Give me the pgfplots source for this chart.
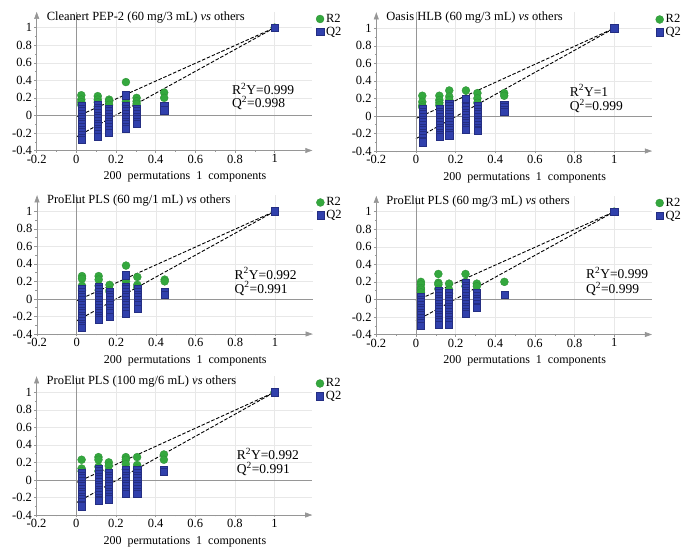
\documentclass[border=0pt]{standalone}
\usepackage{fontspec}
\setmainfont{Liberation Serif}
\usepackage{pgfplots}
\pgfplotsset{compat=1.18}
\usetikzlibrary{arrows.meta}
\definecolor{rgreen}{RGB}{52,168,62}
\definecolor{qblue}{RGB}{48,64,172}
\definecolor{qedge}{RGB}{36,46,130}
\definecolor{axgray}{RGB}{150,150,150}
\pgfplotsset{
  panel/.style={
    scale only axis, width=275.6pt, height=138.6pt,
    anchor=south west,
    xmin=-0.2, xmax=1.19, ymin=-0.4, ymax=1.18,
    axis lines=left,
    axis line style={draw=axgray, line width=0.6pt, -{Triangle[length=7pt,width=5pt]}},
    xtick={-0.2,0,0.2,0.4,0.6,0.8,1}, xticklabels={-0.2,0,0.2,0.4,0.6,0.8,1},
    ytick={-0.4,-0.2,0,0.2,0.4,0.6,0.8,1}, yticklabels={-0.4,-0.2,0,0.2,0.4,0.6,0.8,1},
    minor x tick num=1, minor y tick num=1,
    tick align=outside, major tick length=2.5pt, minor tick length=1.5pt,
    tick style={axgray, line width=0.4pt},
    grid=major, major grid style={draw=black!9, line width=0.4pt},
    ticklabel style={font=\fontsize{12.5}{14}\selectfont},
    xticklabel style={inner sep=1.5pt},
    yticklabel style={inner sep=2pt},
    clip=false,
    legend cell align=left,
    legend style={at={(1.013,1.0)}, anchor=north west, draw=none, fill=none,
      font=\fontsize{12.5}{13}\selectfont, inner sep=0pt, row sep=-1pt,
      /tikz/every even column/.append style={column sep=3pt}},
    legend image code/.code={\draw[#1] plot coordinates {(0.2cm,0cm)};},
  },
  rmark/.style={only marks, mark=*, mark size=4pt,
    mark options={fill=rgreen, draw=rgreen!85!black, line width=0.3pt}},
  qmark/.style={only marks, mark=square*, mark size=3.6pt,
    mark options={fill=qblue, draw=qedge, line width=0.35pt}},
  dline/.style={black, line width=0.9pt, dash pattern=on 3.5pt off 1.8pt, forget plot},
}
\newcommand{\deco}[6]{%
  \draw[axgray, line width=0.7pt] (axis cs:0,-0.4) -- (axis cs:0,1.18);
  \draw[axgray, line width=0.7pt] (axis cs:-0.2,0) -- (axis cs:1.19,0);
  \node[anchor=west, font=\fontsize{12.5}{14}\selectfont, inner sep=0pt] at (axis cs:-0.15,1.12) {#1};
  \node[anchor=west, font=\fontsize{13.5}{15}\selectfont, inner sep=0pt] at (axis cs:#3,#4) {R\textsuperscript{2}Y=#2};
  \node[anchor=west, font=\fontsize{13.5}{15}\selectfont, inner sep=0pt] at (axis cs:#3,#6) {Q\textsuperscript{2}=#5};
  \node[font=\fontsize{12}{14}\selectfont, inner sep=0pt] at (axis cs:0.548,-0.4) [yshift=-26.5pt] {200\ \ permutations\ \ 1\ \ components};
}
\begin{document}
\begin{tikzpicture}
\useasboundingbox (0pt,0pt) rectangle (689pt,-553pt);
% Panel 1
\begin{axis}[panel, at={(36.7pt,-150.5pt)}]
\addplot[dline] coordinates {(0,-0.015) (1,1)};
\addplot[dline] coordinates {(0,-0.245) (1,1)};
\addplot[rmark] coordinates {
(0.025,0.23)(0.025,0.18)(0.025,0.15)(0.025,0.12)
(0.108,0.22)(0.108,0.18)(0.108,0.15)(0.108,0.1)
(0.165,0.18)(0.165,0.16)(0.165,0.12)
(0.25,0.38)(0.25,0.21)(0.25,0.16)(0.25,0.12)
(0.304,0.2)(0.304,0.16)(0.304,0.13)
(0.443,0.26)(0.443,0.2)
(1,1)};
\addlegendentry{R2}
\addplot[qmark] coordinates {
(0.025,0.11)(0.025,0.08)(0.025,0.05)(0.025,0.02)(0.025,-0.01)(0.025,-0.04)(0.025,-0.07)(0.025,-0.10)(0.025,-0.13)(0.025,-0.16)(0.025,-0.19)(0.025,-0.22)(0.025,-0.25)(0.025,-0.28)
(0.108,0.12)(0.108,0.09)(0.108,0.06)(0.108,0.03)(0.108,0)(0.108,-0.03)(0.108,-0.06)(0.108,-0.09)(0.108,-0.12)(0.108,-0.15)(0.108,-0.18)(0.108,-0.21)(0.108,-0.24)
(0.165,0.08)(0.165,0.05)(0.165,0.02)(0.165,-0.01)(0.165,-0.04)(0.165,-0.07)(0.165,-0.10)(0.165,-0.13)(0.165,-0.16)(0.165,-0.2)
(0.25,0.23)(0.25,0.11)(0.25,0.08)(0.25,0.05)(0.25,0.02)(0.25,-0.01)(0.25,-0.04)(0.25,-0.07)(0.25,-0.10)(0.25,-0.13)(0.25,-0.15)
(0.304,0.08)(0.304,0.05)(0.304,0.02)(0.304,-0.01)(0.304,-0.04)(0.304,-0.07)(0.304,-0.09)
(0.443,0.11)(0.443,0.06)
(1,1)};
\addlegendentry{Q2}
\deco{Cleanert PEP-2 (60 mg/3 mL) \textit{vs} others}{0.999}{0.785}{0.30}{0.998}{0.14}
\end{axis}
% Panel 2
\begin{axis}[panel, at={(376.3pt,-151pt)}]
\addplot[dline] coordinates {(0,-0.03) (1,1)};
\addplot[dline] coordinates {(0,-0.26) (1,1)};
\addplot[rmark] coordinates {
(0.032,0.23)(0.032,0.16)(0.032,0.12)(0.032,0.1)
(0.118,0.23)(0.118,0.18)(0.118,0.15)(0.118,0.12)
(0.168,0.29)(0.168,0.22)(0.168,0.18)(0.168,0.12)
(0.252,0.29)(0.252,0.2)(0.252,0.15)(0.252,0.1)
(0.31,0.26)(0.31,0.2)(0.31,0.15)
(0.445,0.26)(0.445,0.23)
(1,1)};
\addlegendentry{R2}
\addplot[qmark] coordinates {
(0.032,0.08)(0.032,0.05)(0.032,0.02)(0.032,-0.01)(0.032,-0.04)(0.032,-0.07)(0.032,-0.10)(0.032,-0.13)(0.032,-0.16)(0.032,-0.19)(0.032,-0.22)(0.032,-0.25)(0.032,-0.28)(0.032,-0.3)
(0.118,0.08)(0.118,0.05)(0.118,0.02)(0.118,-0.01)(0.118,-0.04)(0.118,-0.07)(0.118,-0.10)(0.118,-0.13)(0.118,-0.16)(0.118,-0.19)(0.118,-0.22)(0.118,-0.24)
(0.168,0.14)(0.168,0.11)(0.168,0.08)(0.168,0.05)(0.168,0.02)(0.168,-0.01)(0.168,-0.04)(0.168,-0.07)(0.168,-0.10)(0.168,-0.13)(0.168,-0.16)(0.168,-0.19)(0.168,-0.22)
(0.252,0.2)(0.252,0.1)(0.252,0.07)(0.252,0.04)(0.252,0.01)(0.252,-0.02)(0.252,-0.05)(0.252,-0.08)(0.252,-0.11)(0.252,-0.14)(0.252,-0.16)
(0.31,0.11)(0.31,0.08)(0.31,0.05)(0.31,0.02)(0.31,-0.01)(0.31,-0.04)(0.31,-0.07)(0.31,-0.10)(0.31,-0.13)(0.31,-0.16)(0.31,-0.17)
(0.445,0.13)(0.445,0.1)(0.445,0.07)(0.445,0.05)
(1,1)};
\addlegendentry{Q2}
\deco{Oasis HLB (60 mg/3 mL) \textit{vs} others}{1}{0.775}{0.29}{0.999}{0.115}
\end{axis}
% Panel 3
\begin{axis}[panel, at={(37pt,-334pt)}]
\addplot[dline] coordinates {(0,-0.02) (1,1)};
\addplot[dline] coordinates {(0,-0.25) (1,1)};
\addplot[rmark] coordinates {
(0.027,0.26)(0.027,0.23)(0.027,0.15)(0.027,0.1)
(0.111,0.26)(0.111,0.22)(0.111,0.15)(0.111,0.1)
(0.166,0.16)(0.166,0.1)(0.166,0.08)
(0.249,0.38)(0.249,0.24)(0.249,0.2)(0.249,0.15)
(0.306,0.25)(0.306,0.16)(0.306,0.13)
(0.444,0.22)(0.444,0.2)
(1,1)};
\addlegendentry{R2}
\addplot[qmark] coordinates {
(0.027,0.11)(0.027,0.08)(0.027,0.05)(0.027,0.02)(0.027,-0.01)(0.027,-0.04)(0.027,-0.07)(0.027,-0.10)(0.027,-0.13)(0.027,-0.16)(0.027,-0.19)(0.027,-0.22)(0.027,-0.25)(0.027,-0.28)(0.027,-0.31)(0.027,-0.33)
(0.111,0.14)(0.111,0.11)(0.111,0.08)(0.111,0.05)(0.111,0.02)(0.111,-0.01)(0.111,-0.04)(0.111,-0.07)(0.111,-0.10)(0.111,-0.13)(0.111,-0.16)(0.111,-0.19)(0.111,-0.22)(0.111,-0.24)
(0.166,0.08)(0.166,0.05)(0.166,0.02)(0.166,-0.01)(0.166,-0.04)(0.166,-0.07)(0.166,-0.10)(0.166,-0.13)(0.166,-0.16)(0.166,-0.2)
(0.249,0.27)(0.249,0.14)(0.249,0.11)(0.249,0.08)(0.249,0.05)(0.249,0.02)(0.249,-0.01)(0.249,-0.04)(0.249,-0.07)(0.249,-0.10)(0.249,-0.13)(0.249,-0.17)
(0.306,0.11)(0.306,0.08)(0.306,0.05)(0.306,0.02)(0.306,-0.01)(0.306,-0.04)(0.306,-0.07)(0.306,-0.11)
(0.444,0.08)(0.444,0.05)
(1,1)};
\addlegendentry{Q2}
\deco{ProElut PLS (60 mg/1 mL) \textit{vs} others}{0.992}{0.796}{0.29}{0.991}{0.12}
\end{axis}
% Panel 4
\begin{axis}[panel, at={(376.3pt,-334.5pt)}]
\addplot[dline] coordinates {(0,-0.015) (1,1)};
\addplot[dline] coordinates {(0,-0.245) (1,1)};
\addplot[rmark] coordinates {
(0.025,0.2)(0.025,0.17)(0.025,0.13)(0.025,0.11)(0.025,0.08)
(0.113,0.29)(0.113,0.19)(0.113,0.17)(0.113,0.12)
(0.167,0.18)(0.167,0.11)(0.167,0.07)
(0.25,0.29)(0.25,0.2)(0.25,0.15)
(0.307,0.18)(0.307,0.15)
(0.446,0.2)
(1,1)};
\addlegendentry{R2}
\addplot[qmark] coordinates {
(0.025,0.03)(0.025,0)(0.025,-0.03)(0.025,-0.06)(0.025,-0.09)(0.025,-0.12)(0.025,-0.15)(0.025,-0.18)(0.025,-0.21)(0.025,-0.24)(0.025,-0.27)(0.025,-0.3)
(0.113,0.1)(0.113,0.07)(0.113,0.04)(0.113,0.01)(0.113,-0.02)(0.113,-0.05)(0.113,-0.08)(0.113,-0.11)(0.113,-0.14)(0.113,-0.17)(0.113,-0.2)(0.113,-0.23)(0.113,-0.26)(0.113,-0.29)
(0.167,0.07)(0.167,0.04)(0.167,0.01)(0.167,-0.02)(0.167,-0.05)(0.167,-0.08)(0.167,-0.11)(0.167,-0.14)(0.167,-0.17)(0.167,-0.2)(0.167,-0.23)(0.167,-0.26)(0.167,-0.29)
(0.25,0.19)(0.25,0.16)(0.25,0.13)(0.25,0.1)(0.25,0.07)(0.25,0.04)(0.25,0.01)(0.25,-0.02)(0.25,-0.05)(0.25,-0.08)(0.25,-0.11)(0.25,-0.14)(0.25,-0.16)
(0.307,0.07)(0.307,0.04)(0.307,0.01)(0.307,-0.02)(0.307,-0.05)(0.307,-0.08)(0.307,-0.09)
(0.446,0.05)
(1,1)};
\addlegendentry{Q2}
\deco{ProElut PLS (60 mg/3 mL) \textit{vs} others}{0.999}{0.857}{0.30}{0.999}{0.12}
\end{axis}
% Panel 5
\begin{axis}[panel, at={(36.6pt,-515pt)}]
\addplot[dline] coordinates {(0,-0.03) (1,1)};
\addplot[dline] coordinates {(0,-0.26) (1,1)};
\addplot[rmark] coordinates {
(0.027,0.23)(0.027,0.13)(0.027,0.1)
(0.112,0.26)(0.112,0.23)(0.112,0.15)(0.112,0.1)
(0.164,0.2)(0.164,0.16)(0.164,0.1)
(0.25,0.26)(0.25,0.23)(0.25,0.18)(0.25,0.12)
(0.307,0.26)(0.307,0.17)(0.307,0.13)
(0.442,0.29)(0.442,0.23)
(1,1)};
\addlegendentry{R2}
\addplot[qmark] coordinates {
(0.027,0.08)(0.027,0.05)(0.027,0.02)(0.027,-0.01)(0.027,-0.04)(0.027,-0.07)(0.027,-0.10)(0.027,-0.13)(0.027,-0.16)(0.027,-0.19)(0.027,-0.22)(0.027,-0.25)(0.027,-0.28)(0.027,-0.3)
(0.112,0.13)(0.112,0.1)(0.112,0.07)(0.112,0.04)(0.112,0.01)(0.112,-0.02)(0.112,-0.05)(0.112,-0.08)(0.112,-0.11)(0.112,-0.14)(0.112,-0.17)(0.112,-0.2)(0.112,-0.23)(0.112,-0.24)
(0.164,0.08)(0.164,0.05)(0.164,0.02)(0.164,-0.01)(0.164,-0.04)(0.164,-0.07)(0.164,-0.10)(0.164,-0.13)(0.164,-0.16)(0.164,-0.19)(0.164,-0.22)
(0.25,0.11)(0.25,0.08)(0.25,0.05)(0.25,0.02)(0.25,-0.01)(0.25,-0.04)(0.25,-0.07)(0.25,-0.10)(0.25,-0.13)(0.25,-0.16)
(0.307,0.11)(0.307,0.08)(0.307,0.05)(0.307,0.02)(0.307,-0.01)(0.307,-0.04)(0.307,-0.07)(0.307,-0.10)(0.307,-0.13)(0.307,-0.16)
(0.442,0.12)(0.442,0.09)
(1,1)};
\addlegendentry{Q2}
\deco{ProElut PLS (100 mg/6 mL) \textit{vs} others}{0.992}{0.809}{0.30}{0.991}{0.124}
\end{axis}
\end{tikzpicture}
\end{document}
